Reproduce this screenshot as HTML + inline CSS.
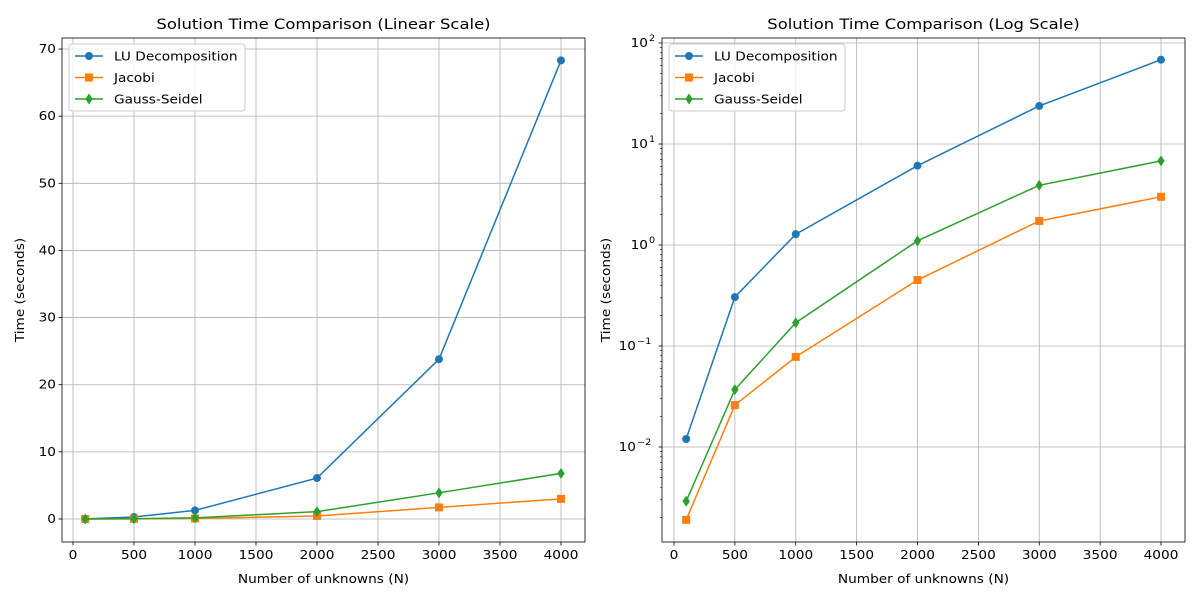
<!DOCTYPE html>
<html><head><meta charset="utf-8"><style>body{margin:0;background:#fff}svg{font-family:"DejaVu Sans","Liberation Sans",sans-serif}</style></head>
<body>
<svg id="chart" width="1200" height="600" xmlns="http://www.w3.org/2000/svg"></svg>
<script>
const categories=[100,500,1000,2000,3000,4000];
const luValues=[0.012,0.305,1.28,6.1,23.8,68.3];
const jacobiValues=[0.0019,0.026,0.078,0.45,1.73,3.0];
const gsValues=[0.0029,0.037,0.17,1.1,3.9,6.8];
const xTicks=[0,500,1000,1500,2000,2500,3000,3500,4000];
const yTicksLin=[0,10,20,30,40,50,60,70];
const yTicksLog=[-2,-1,0,1,2];
const seriesNames=["LU Decomposition","Jacobi","Gauss-Seidel"];
const NS="http://www.w3.org/2000/svg";
const svg=document.getElementById('chart');
const SX=1.14;
function mk(t,a,p){const e=document.createElementNS(NS,t);for(const k in a)e.setAttribute(k,a[k]);(p||svg).appendChild(e);return e;}
function txt(p,x,y,s,size,anchor,rot){const t=mk('text',{x:0,y:0,'font-size':size,'text-anchor':anchor||'start',fill:'#000',
 transform:`translate(${x} ${y})`+(rot?` rotate(${rot})`:'')+` scale(${SX} 1)`},p);t.textContent=s;return t;}
const colors=["#1f77b4","#ff7f0e","#2ca02c"];
const series=[luValues,jacobiValues,gsValues];
function marker(g,kind,x,y,c){
 let m;
 if(kind===0)m=mk('circle',{cx:x,cy:y,r:4,fill:c},g);
 else if(kind===1)m=mk('rect',{x:x-4,y:y-4,width:8,height:8,fill:c},g);
 else m=mk('polygon',{points:`${x},${y-5.5} ${x+3.7},${y} ${x},${y+5.5} ${x-3.7},${y}`,fill:c},g);
 
 
}
function panel(L,R,T,B,log,title,xs,ys){
 const g=mk('g',{});
 
 
 xTicks.forEach(v=>{const x=xs(v);mk('line',{x1:x,x2:x,y1:T,y2:B,stroke:'#b0b0b0','stroke-width':0.8},g);
  mk('line',{x1:x,x2:x,y1:B,y2:B+3.5,stroke:'#000','stroke-width':0.8},g);
  const t=txt(g,x,B+17,String(v),12,'middle');
  });
 if(!log){
  yTicksLin.forEach(v=>{const y=ys(v);mk('line',{x1:L,x2:R,y1:y,y2:y,stroke:'#b0b0b0','stroke-width':0.8},g);
   mk('line',{x1:L-3.5,x2:L,y1:y,y2:y,stroke:'#000','stroke-width':0.8},g);
   const t=txt(g,L-6,y+4,String(v),12,'end');
   });
 } else {
  for(let d=-3;d<=2;d++)for(let k=2;k<=9;k++){const y=ys(Math.pow(10,d)*k);if(y>T&&y<B)mk('line',{x1:L-2,x2:L,y1:y,y2:y,stroke:'#000','stroke-width':0.6},g);}
  yTicksLog.forEach(p=>{const y=ys(Math.pow(10,p));mk('line',{x1:L,x2:R,y1:y,y2:y,stroke:'#b0b0b0','stroke-width':0.8},g);
   mk('line',{x1:L-3.5,x2:L,y1:y,y2:y,stroke:'#000','stroke-width':0.8},g);
   const neg=p<0;
   const ex=neg?L-6-(20):L-6-(8);
   const t=txt(g,ex,y+4,'10',12,'end');
   
   const s=txt(g,ex+1,y-2,neg?'\u2212'+(-p):String(p),8.5,'start');
   });
 }
 series.forEach((vals,i)=>{
  const pts=vals.map((v,j)=>xs(categories[j])+','+ys(v)).join(' ');
  const l=mk('polyline',{points:pts,fill:'none',stroke:colors[i],'stroke-width':1.5},g);
  
  vals.forEach((v,j)=>marker(g,i,xs(categories[j]),ys(v),colors[i]));
 });
 mk('rect',{x:L,y:T,width:R-L,height:B-T,fill:'none',stroke:'#000','stroke-width':0.8},g);
 const tt=txt(g,(L+R)/2,T-9,title,14.4,'middle');
 
 const xl=txt(g,(L+R)/2,583,'Number of unknowns (N)',12,'middle');
 
 const yx=L-(log?52:38);
 const yl=txt(g,yx,(T+B)/2,'Time (seconds)',12,'middle',-90);
 
 const lg=mk('g',{},g);
 mk('rect',{x:L+7,y:T+6,width:176,height:67,rx:3,fill:'#fff','fill-opacity':0.8,stroke:'#ccc'},lg);
 seriesNames.forEach((n,i)=>{const y=T+18+i*21.5;
  const e=mk('g',{},lg);
  mk('line',{x1:L+13,x2:L+41,y1:y,y2:y,stroke:colors[i],'stroke-width':1.5},e);
  marker(e,i,L+27,y,colors[i]);
  txt(e,L+52,y+4.5,n,12,'start');});
}
panel(62,585,38,542,false,'Solution Time Comparison (Linear Scale)',
 v=>73+(v/4000)*488, v=>519-v*6.714);
panel(662,1185,38,542,true,'Solution Time Comparison (Log Scale)',
 v=>674+(v/4000)*487, v=>245-Math.log10(v)*101);
</script>
</body></html>
